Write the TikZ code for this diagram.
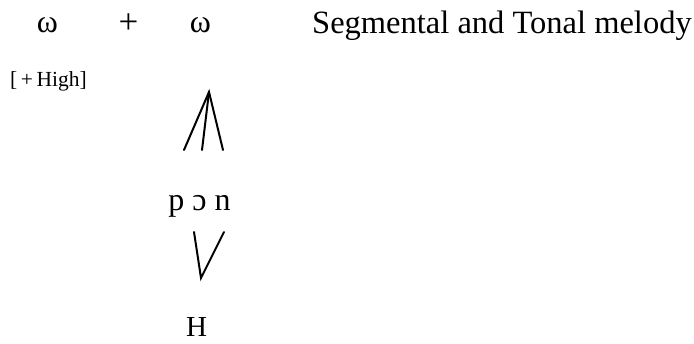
\documentclass[tikz,border=0pt]{standalone}
\usepackage{fontspec}
\setmainfont{Liberation Serif}
\begin{document}
\begin{tikzpicture}[x=1pt,y=-1pt,
  big/.style={inner sep=0pt,font=\fontsize{32.5}{36}\selectfont},
  omega/.style={inner sep=0pt,font=\fontsize{32}{36}\selectfont},
  plussign/.style={inner sep=0pt,font=\fontsize{35}{38}\selectfont},
  seg/.style={inner sep=0pt,font=\fontsize{32}{36}\selectfont},
  tonestyle/.style={inner sep=0pt,font=\fontsize{29}{32}\selectfont},
  small/.style={inner sep=0pt,font=\fontsize{21.5}{24}\selectfont},
  assoc/.style={line width=2pt,line cap=round}]
\useasboundingbox (0,0) rectangle (694,344);
\node[omega,anchor=base] (w1) at (47.5,33) {ω};
\node[plussign,anchor=base] (plus) at (128.5,33.5) {+};
\node[omega,anchor=base] (w2) at (200.5,33) {ω};
\node[big,anchor=base west] (title) at (312,34) {Segmental and Tonal melody};
\node[small,anchor=base west] (high) at (10,87) {[\,+\,High]};
\node[seg,anchor=base] (pon) at (199.5,211) {p ɔ n};
\node[tonestyle,anchor=base] (tone) at (196.5,337) {H};
\coordinate (apex) at (209,92);
\coordinate (s1) at (184,150);
\coordinate (s2) at (202,150);
\coordinate (s3) at (223,150);
\coordinate (v1) at (194,232);
\coordinate (v2) at (224,232);
\coordinate (vb) at (201,278);
\draw[assoc] (s1) -- (apex) -- (s3);
\draw[assoc] (s2) -- (apex);
\draw[assoc] (v1) -- (vb) -- (v2);
\end{tikzpicture}
\end{document}
